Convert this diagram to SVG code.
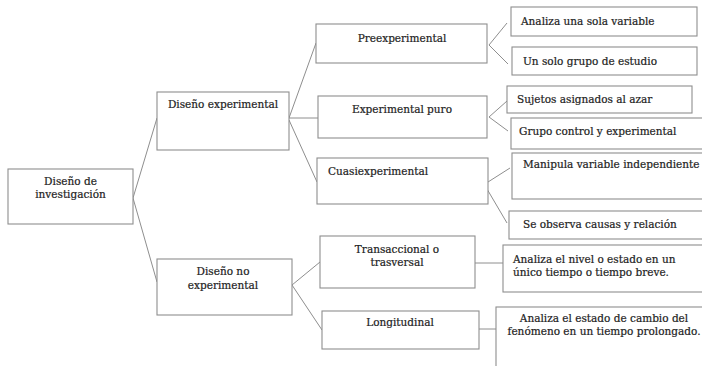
<svg xmlns="http://www.w3.org/2000/svg" width="702" height="366" viewBox="0 0 702 366">
  <style>
    .box { fill: #ffffff; stroke: #8e8e8e; stroke-width: 1.1; }
    text { font-family: "DejaVu Serif Condensed", "DejaVu Serif", serif; font-stretch: condensed; font-size: 11.7px; fill: #222222; stroke: #222222; stroke-width: 0.2; }
    .c { text-anchor: middle; }
    .link { stroke: #8e8e8e; stroke-width: 1; fill: none; }
  </style>
  <rect width="702" height="366" fill="#ffffff"/>

  <!-- connectors -->
  <g id="connectors" class="link">
    <path d="M133 198 L157 118 M133 198 L157 282"/>
    <path d="M289 118 L316 43 M289 118 L318 118 M289 120 L317 182"/>
    <path d="M489 45 L507 23 M489 45 L508 64"/>
    <path d="M489 117 L507 101 M489 117 L508 131"/>
    <path d="M488 182 L510 168 M487 189 L507 223"/>
    <path d="M292 285 L320 262 M292 285 L322 330"/>
    <path d="M475 263 L503 263"/>
    <path d="M479 329 L496 329"/>
  </g>

  <!-- root -->
  <g id="diseno-investigacion">
    <rect class="box" x="8" y="169" width="125" height="55"/>
    <text class="c" x="70.5" y="185">Diseño de</text>
    <text class="c" x="70.5" y="198">investigación</text>
  </g>

  <!-- second level -->
  <g id="diseno-experimental">
    <rect class="box" x="157" y="92" width="132" height="58"/>
    <text class="c" x="223" y="108">Diseño experimental</text>
  </g>
  <g id="diseno-no-experimental">
    <rect class="box" x="157" y="259" width="135" height="56"/>
    <text class="c" x="223" y="275">Diseño no</text>
    <text class="c" x="223" y="289">experimental</text>
  </g>

  <!-- third level -->
  <g id="preexperimental">
    <rect class="box" x="316" y="24" width="171" height="39"/>
    <text class="c" x="402" y="42">Preexperimental</text>
  </g>
  <g id="experimental-puro">
    <rect class="box" x="318" y="96" width="169" height="42"/>
    <text class="c" x="402" y="113">Experimental puro</text>
  </g>
  <g id="cuasiexperimental">
    <rect class="box" x="317" y="158" width="171" height="46"/>
    <text x="328" y="175">Cuasiexperimental</text>
  </g>
  <g id="transaccional">
    <rect class="box" x="320" y="236" width="155" height="52"/>
    <text class="c" x="397" y="253">Transaccional o</text>
    <text class="c" x="397" y="266">trasversal</text>
  </g>
  <g id="longitudinal">
    <rect class="box" x="322" y="311" width="157" height="38"/>
    <text class="c" x="400" y="326">Longitudinal</text>
  </g>

  <!-- leaves -->
  <g id="analiza-una-sola-variable">
    <rect class="box" x="511" y="7" width="186" height="29"/>
    <text x="521" y="25">Analiza una sola variable</text>
  </g>
  <g id="un-solo-grupo">
    <rect class="box" x="512" y="47" width="185" height="28"/>
    <text x="523" y="65">Un solo grupo de estudio</text>
  </g>
  <g id="sujetos-asignados">
    <rect class="box" x="507" y="86" width="185" height="27"/>
    <text x="517" y="103">Sujetos asignados al azar</text>
  </g>
  <g id="grupo-control">
    <rect class="box" x="511" y="118" width="200" height="31"/>
    <text x="519" y="135">Grupo control y experimental</text>
  </g>
  <g id="manipula-variable">
    <rect class="box" x="512" y="153" width="200" height="46"/>
    <text x="523" y="168">Manipula variable independiente</text>
  </g>
  <g id="se-observa">
    <rect class="box" x="509" y="211" width="200" height="28"/>
    <text x="523" y="228">Se observa causas y relación</text>
  </g>
  <g id="analiza-nivel">
    <rect class="box" x="503" y="245" width="210" height="47"/>
    <text x="513" y="263">Analiza el nivel o estado en un</text>
    <text x="513" y="276">único tiempo o tiempo breve.</text>
  </g>
  <g id="analiza-estado">
    <rect class="box" x="496" y="307" width="220" height="70"/>
    <text class="c" x="604" y="322">Analiza el estado de cambio del</text>
    <text class="c" x="604" y="335">fenómeno en un tiempo prolongado.</text>
  </g>
</svg>
